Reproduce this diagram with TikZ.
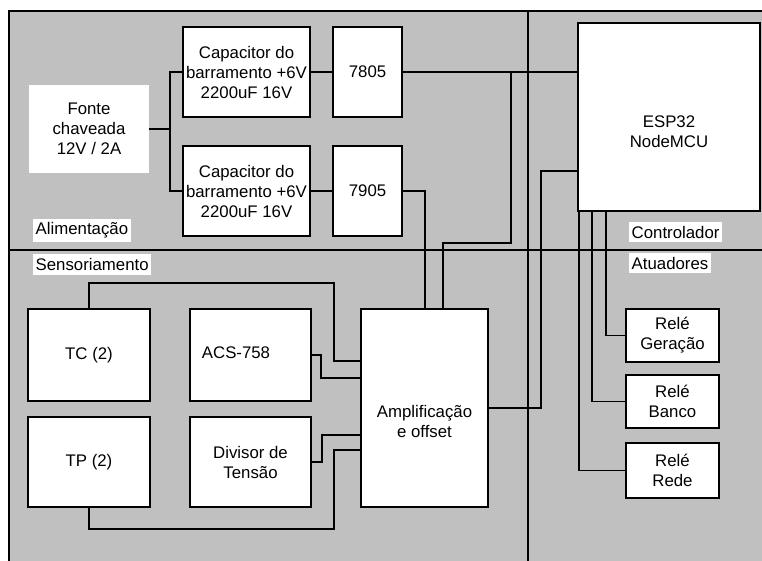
\documentclass[tikz,border=0pt]{standalone}
\usepackage{fontspec}
\setmainfont{Liberation Sans}
\definecolor{bggray}{RGB}{192,192,192}
\begin{document}
\begin{tikzpicture}[x=1pt,y=-1pt,
  txt/.style={font=\fontsize{16.8}{20}\selectfont, align=center, inner sep=0pt},
  box/.style={txt, draw=black, line width=1.1pt, fill=white, inner sep=0pt},
  plain/.style={txt, fill=white, inner sep=0pt},
  lbl/.style={txt, fill=white, inner xsep=2.5pt, inner ysep=4pt, anchor=west},
  wire/.style={line width=1.1pt, draw=black}
]
\useasboundingbox (0,0) rectangle (762,561);
\fill[white] (0,0) rectangle (762,561);
\fill[bggray] (9,11) rectangle (762,561);
\draw[wire] (9,561) -- (9,11) -- (762,11);
\draw[wire] (9,250) -- (762,250);
\draw[wire] (528,11) -- (528,561);

% section labels
\node[lbl] (alim) at (33,230.5) {Alimentação};
\node[lbl] (sens) at (33,264.5) {Sensoriamento};
\node[lbl] (ctrl) at (629,232) {Controlador};
\node[lbl] (atua) at (629,263) {Atuadores};

% power section
\node[plain, minimum width=120pt, minimum height=88pt] (fonte) at (89,129) {Fonte\\chaveada\\12V / 2A};
\node[box, minimum width=127pt, minimum height=90pt] (cap1) at (246.5,72) {Capacitor do\\barramento +6V\\2200uF 16V};
\node[box, minimum width=127pt, minimum height=90pt] (cap2) at (246.5,191) {Capacitor do\\barramento +6V\\2200uF 16V};
\node[box, minimum width=69pt, minimum height=90pt] (r7805) at (367.5,72) {7805};
\node[box, minimum width=69pt, minimum height=90pt] (r7905) at (367.5,191) {7905};

% controller
\node[box, minimum width=182pt, minimum height=188pt] (esp) at (669,117) {};
\node[txt] (esptxt) at (669,132) {ESP32\\NodeMCU};

% sensing
\node[box, minimum width=122pt, minimum height=92pt] (tc) at (89,355) {TC (2)};
\node[box, minimum width=122pt, minimum height=90pt] (tp) at (89,462) {TP (2)};
\node[box, minimum width=121pt, minimum height=92pt] (acs) at (250.5,355) {};
\node[txt] (acstxt) at (236,353) {ACS-758};
\node[box, minimum width=121pt, minimum height=90pt] (div) at (250.5,462) {Divisor de\\Tensão};
\node[box, minimum width=127pt, minimum height=198pt] (amp) at (424.5,408) {};
\node[txt] (amptxt) at (424.5,421) {Amplificação\\e offset};

% actuators
\node[box, minimum width=93pt, minimum height=53pt] (rg) at (672.5,335.5) {Relé\\Geração};
\node[box, minimum width=93pt, minimum height=53pt] (rb) at (672.5,401.5) {Relé\\Banco};
\node[box, minimum width=93pt, minimum height=55pt] (rr) at (672.5,470.5) {Relé\\Rede};

% power wiring
\draw[wire] (fonte.east) -- (170,129) |- (cap1.west);
\draw[wire] (170,129) |- (cap2.west);
\draw[wire] (cap1) -- (r7805);
\draw[wire] (cap2) -- (r7905);
\draw[wire] (r7805.east) -- (esp.west |- r7805.east);
\draw[wire] (511,72) |- (443,243) -- (amp.north -| 443,243);
\draw[wire] (r7905.east) -| (amp.north -| 425,191);

% controller wiring
\draw[wire] (amp.east) -| (541,171) -- (esp.west |- 541,171);
\draw[wire] (esp.south -| 606,0) |- (rg.west);
\draw[wire] (esp.south -| 592,0) |- (rb.west);
\draw[wire] (esp.south -| 579,0) |- (rr.west);

% sensing wiring
\draw[wire] (tc.north) -- (89,283) -| (334,361) -- (amp.west |- 334,361);
\draw[wire] (acs.east) -| (321,378) -- (amp.west |- 321,378);
\draw[wire] (div.east) -| (322,435) -- (amp.west |- 322,435);
\draw[wire] (tp.south) -- (89,529) -| (334,450) -- (amp.west |- 334,450);
\end{tikzpicture}
\end{document}
